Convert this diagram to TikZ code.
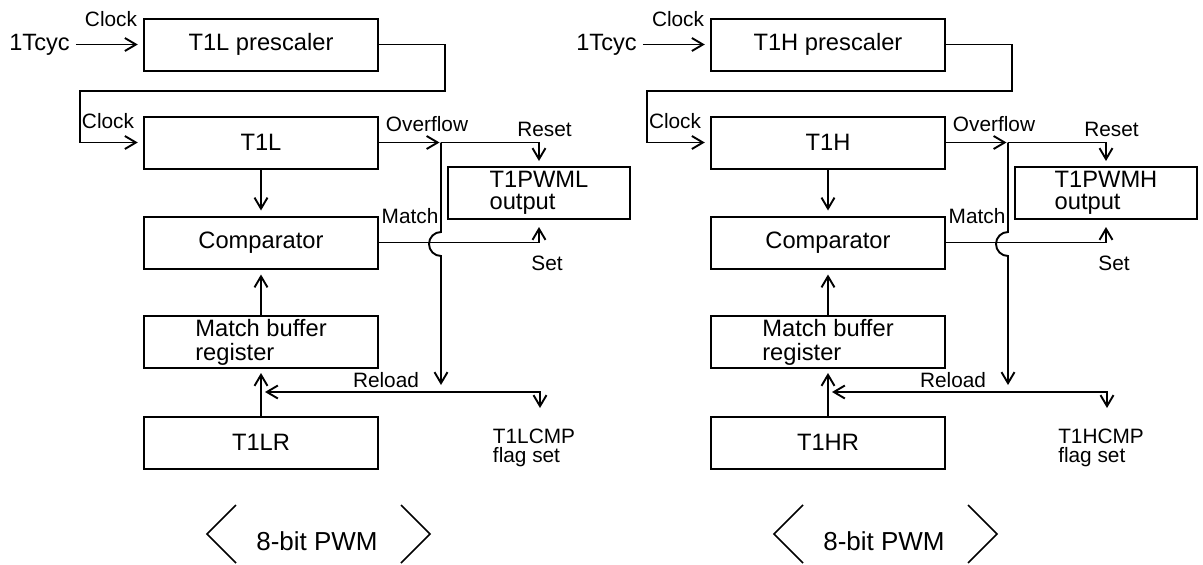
\documentclass[tikz,border=0pt]{standalone}
\usepackage{fontspec}
\setmainfont{Liberation Sans}
\usetikzlibrary{arrows.meta}
\definecolor{Paper}{HTML}{FFFFFF}
\definecolor{Ink}{HTML}{000000}
\tikzset{
  blk/.style={draw=Ink,line width=2pt,minimum width=234.5pt,minimum height=52pt,inner sep=0pt,align=left,font=\fontsize{23.7}{24}\selectfont},
  outblk/.style={blk,minimum width=182pt,font=\fontsize{23.7}{22}\selectfont},
  lbl/.style={inner sep=0pt,align=left,font=\fontsize{20.8}{19}\selectfont},
  wire/.style={draw=Ink,line width=1.9pt}
}

\begin{document}
\begin{tikzpicture}[x=1pt,y=-1pt,>={Straight Barb[length=11pt,width=13pt]},every node/.style={text=Ink}]
\fill[Paper] (0,0) rectangle (1203,565);
\useasboundingbox (0,0) rectangle (1203,565);
\foreach \t/\dx in {L/0,H/567}{
\begin{scope}[xshift=\dx pt]
% boxes
\node[blk] (prs\t) at (261,44.5) {T1\t{} prescaler};
\node[blk] (tmr\t) at (261,142.5) {T1\t};
\node[blk] (cmp\t) at (261,242.5) {Comparator};
\node[blk] (buf\t) at (261,342) {Match buffer\\register};
\node[blk] (rel\t) at (261,442.5) {T1\t R};
\node[outblk] (out\t) at (539,193) {T1PWM\t\\output};
\node[inner sep=6pt,font=\fontsize{23.6}{24}\selectfont] (cyc\t) at (39.5,44.5) {1Tcyc};
% labels
\node[lbl] (clki\t) at (111,19) {Clock};
\node[lbl] (clkt\t) at (108,121) {Clock};
\node[lbl] (ovl\t) at (427,124) {Overflow};
\node[lbl] (rst\t) at (544.5,129) {Reset};
\node[lbl] (mtc\t) at (410,216) {Match};
\node[lbl] (set\t) at (547,263) {Set};
\node[lbl] (rldl\t) at (386,380) {Reload};
\node[lbl] (cmpf\t) at (534,448) {T1\t CMP\\flag set};
\coordinate (ovf\t) at (441,142.5);
\coordinate (rld\t) at (265,392);
\coordinate (flg\t) at (540,408);
% connectors
\draw[wire,->,shorten >=5pt] (cyc\t.east) -- (prs\t.west);
\draw[wire,->,shorten >=5pt] (prs\t.east) -- ++(66,0) |- (80,91) |- (tmr\t.west);
\draw[wire,->,shorten >=1.5pt] (tmr\t.east) -- (ovf\t);
\draw[wire,->,shorten >=5pt] (ovf\t) -| (out\t.north);
\draw[wire,->] (ovf\t) -- (441,232) arc[start angle=270,end angle=90,radius=12] -- (441,385);
\draw[wire,->,shorten >=7pt] (cmp\t.east) -| (out\t.south);
\draw[wire,<->] (rld\t) -| (flg\t);
\draw[wire,->,shorten >=5pt] (tmr\t.south) -- (cmp\t.north);
\draw[wire,->,shorten >=5pt] (buf\t.north) -- (cmp\t.south);
\draw[wire,->,shorten >=4pt] (rel\t.north) -- (buf\t.south);
% mode tag
\node[font=\fontsize{26}{26}\selectfont] (pwm\t) at (317,541) {8-bit PWM};
\draw[line width=1.6pt] (236,505) -- (207,534) -- (236,563);
\draw[line width=1.6pt] (401,505) -- (430,534) -- (401,563);
\end{scope}
}
\end{tikzpicture}
\end{document}
